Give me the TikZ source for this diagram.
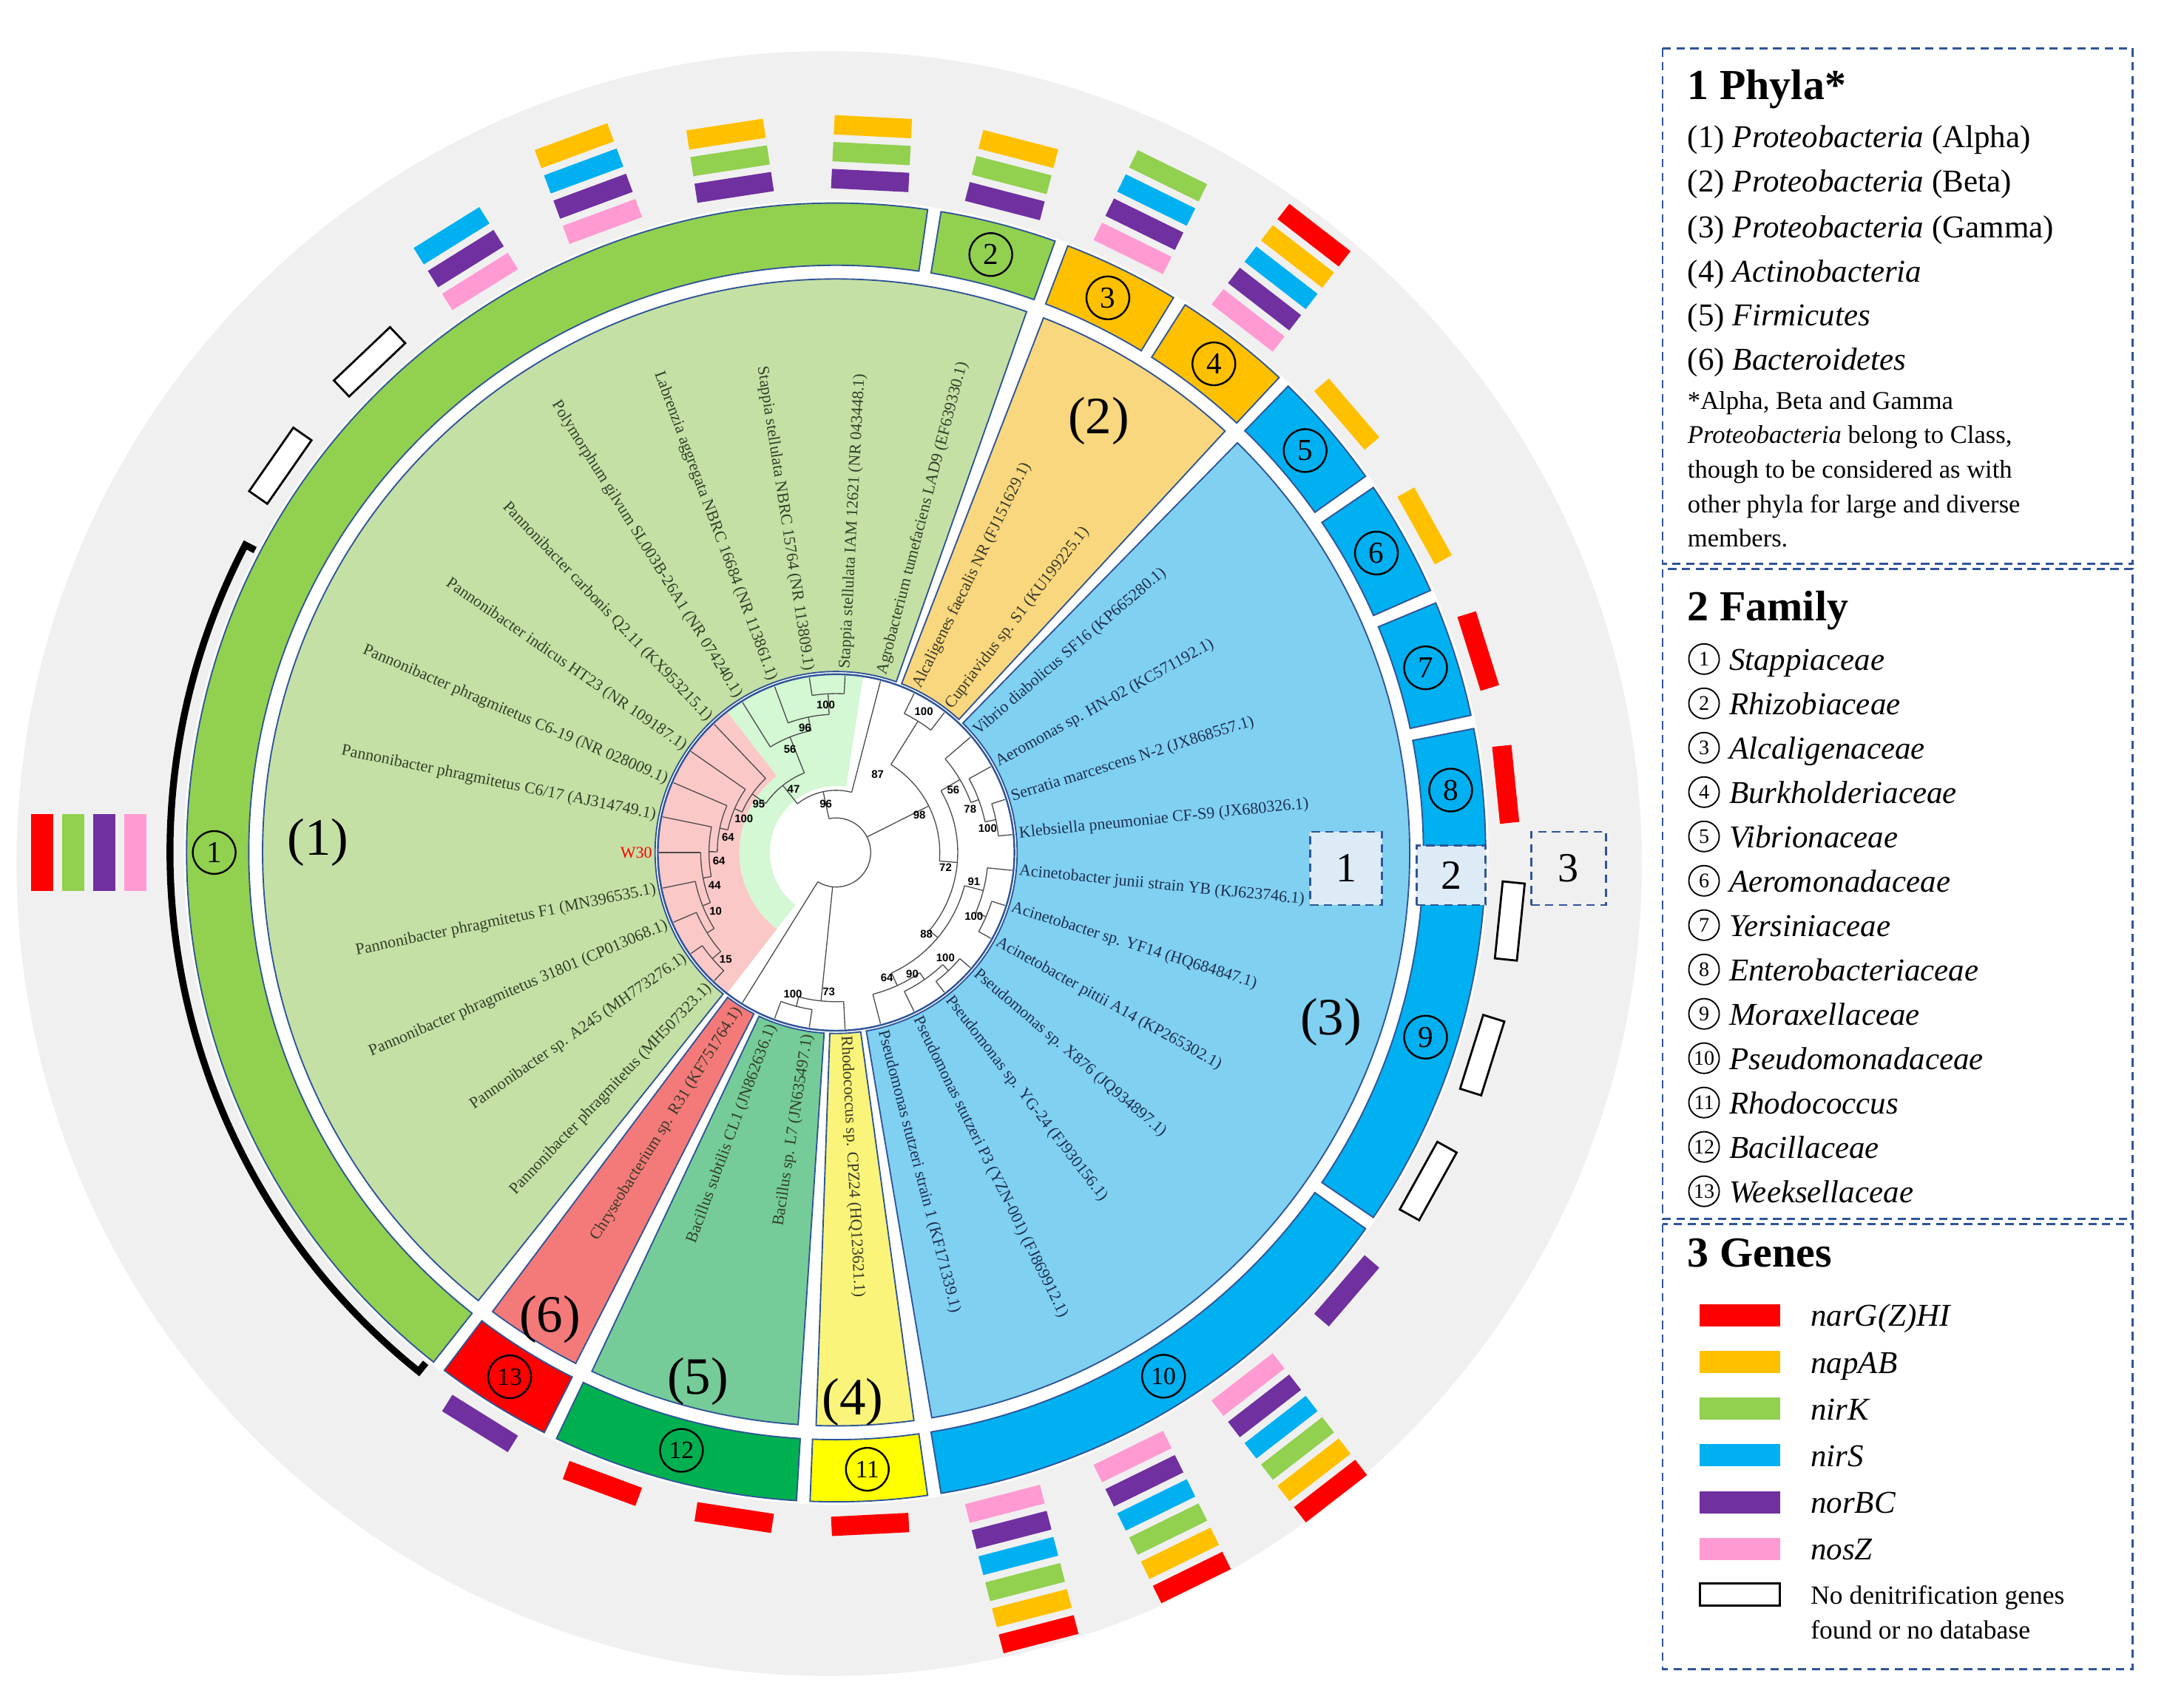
\documentclass[tikz,border=0pt]{standalone}
\usepackage{fontspec}
\setmainfont{Liberation Serif}
\newfontfamily\lsans{Liberation Sans}
\definecolor{cR}{HTML}{FF0000}
\definecolor{cO}{HTML}{FFC000}
\definecolor{cG}{HTML}{92D050}
\definecolor{cB}{HTML}{00B0F0}
\definecolor{cP}{HTML}{7030A0}
\definecolor{cK}{HTML}{FF9BD2}
\definecolor{edge}{HTML}{2F5597}
\definecolor{bgc}{HTML}{F0F0F0}
\definecolor{ph1}{HTML}{C5E0A5}
\definecolor{ph2}{HTML}{F9D77E}
\definecolor{ph3}{HTML}{80D0F2}
\definecolor{ph4}{HTML}{FAF57A}
\definecolor{ph5}{HTML}{76CC98}
\definecolor{ph6}{HTML}{F47A7A}
\definecolor{fm11}{HTML}{FFFF00}
\definecolor{fm12}{HTML}{00B050}
\definecolor{tg}{HTML}{33402A}
\definecolor{tb}{HTML}{1F2F4F}
\definecolor{tk}{HTML}{3A3A2A}
\definecolor{pinkin}{HTML}{FBC8C8}
\definecolor{grnin}{HTML}{D4F7D4}
\definecolor{keyfill}{HTML}{DDEBF7}
\tikzset{
  br/.style={draw=black!70,line width=0.7pt},
  sec/.style={draw=edge,line width=1pt},
  gb/.style={minimum width=14pt,minimum height=56pt,inner sep=0pt,outer sep=0pt,draw=none},
  eb/.style={minimum width=16pt,minimum height=56pt,inner sep=0pt,draw=black,line width=1.5pt,fill=white},
  lf/.style={font=\fontsize{11.8}{13}\selectfont,inner sep=0pt},
  bsn/.style={font=\lsans\bfseries\fontsize{8}{9}\selectfont,inner sep=0.5pt},
  fnum/.style={circle,draw=black,line width=1.3pt,minimum size=31pt,inner sep=0pt,font=\fontsize{22}{24}\selectfont},
  lnum/.style={circle,draw=black,line width=1pt,minimum size=22pt,inner sep=0pt,font=\fontsize{15}{16}\selectfont},
  legbox/.style={draw=edge,line width=1.5pt,dash pattern=on 6pt off 4pt},
  legt/.style={anchor=base west,inner sep=0pt,font=\fontsize{23}{26}\selectfont},
  legn/.style={anchor=base west,inner sep=0pt,font=\fontsize{18.5}{22}\selectfont},
  legh/.style={anchor=base west,inner sep=0pt,font=\bfseries\fontsize{31}{34}\selectfont},
  phl/.style={font=\fontsize{38}{40}\selectfont},
}
\newcommand\sector[5]{\path[#5] (#1:#3pt) -- (#1:#4pt) arc[start angle=#1,end angle=#2,radius=#4pt] -- (#2:#3pt) arc[start angle=#2,end angle=#1,radius=#3pt] -- cycle;}
\newcommand\Br[3]{\draw[br] (#1:#2pt) -- (#1:#3pt);}
\newcommand\Ar[3]{\draw[br] (#2:#1pt) arc[start angle=#2,end angle=#3,radius=#1pt];}
\newcommand\LR[3]{\node[lf,text=#3,anchor=west,rotate=#1] at (#1:133pt) {#2};}
\newcommand\LL[3]{\node[lf,text=#3,anchor=east,rotate=#1-180] at (#1:133pt) {#2};}
\newcommand\BS[3]{\node[bsn] at (#1:#2pt) {#3};}
\newcommand\stack[2]{\foreach \c [count=\i from 0] in {#2} {\pgfmathsetmacro\rr{487+19.5*\i}\node[gb,fill=\c,rotate=#1] at (#1:\rr pt) {};}}
\newcommand\ebox[1]{\node[eb,rotate=#1] at (#1:490pt) {};}
\begin{document}
\begin{tikzpicture}[x=1pt,y=1pt]
\useasboundingbox (-605,-619) rectangle (963,617);
\fill[white] (-605,-619) rectangle (963,617);
\begin{scope}
\clip (-605,-619) rectangle (963,617);
\fill[bgc] (-5,-8) circle (588pt);
\end{scope}
\fill[white] (0,0) circle (472pt);
% phyla sectors
\sector{70.6}{231.4}{131}{415}{sec,fill=ph1}
\sector{47.3}{68.8}{131}{415}{sec,fill=ph2}
\sector{-80.4}{45.6}{131}{415}{sec,fill=ph3}
\sector{-92.0}{-82.2}{131}{415}{sec,fill=ph4}
\sector{-115.2}{-93.8}{131}{415}{sec,fill=ph5}
\sector{-126.8}{-117.0}{131}{415}{sec,fill=ph6}
% family ring
\sector{81.9}{231.7}{425}{470}{sec,fill=cG}
\sector{70.3}{80.7}{425}{470}{sec,fill=cG}
\sector{58.7}{69.1}{425}{470}{sec,fill=cO}
\sector{47.0}{57.5}{425}{470}{sec,fill=cO}
\sector{35.4}{45.9}{425}{470}{sec,fill=cB}
\sector{23.8}{34.2}{425}{470}{sec,fill=cB}
\sector{12.2}{22.6}{425}{470}{sec,fill=cB}
\sector{0.6}{11.0}{425}{470}{sec,fill=cB}
\sector{-34.2}{-0.6}{425}{470}{sec,fill=cB}
\sector{-80.7}{-35.4}{425}{470}{sec,fill=cB}
\sector{-92.3}{-81.9}{425}{470}{sec,fill=fm11}
\sector{-115.5}{-93.5}{425}{470}{sec,fill=fm12}
\sector{-127.1}{-116.7}{425}{470}{sec,fill=cR}
\node[fnum] (f1) at (180:450pt) {1};
\node[fnum] (f2) at (75.5:447pt) {2};
\node[fnum] (f3) at (63.9:447pt) {3};
\node[fnum] (f4) at (52.3:447pt) {4};
\node[fnum] (f5) at (40.6:447pt) {5};
\node[fnum] (f6) at (29.0:447pt) {6};
\node[fnum] (f7) at (17.4:447pt) {7};
\node[fnum] (f8) at (5.8:447pt) {8};
\node[fnum] (f9) at (-17.4:447pt) {9};
\node[fnum,font=\fontsize{18}{20}\selectfont] (f10) at (-58:447pt) {10};
\node[fnum,font=\fontsize{18}{20}\selectfont] (f11) at (-87.1:447pt) {11};
\node[fnum,font=\fontsize{18}{20}\selectfont] (f12) at (-104.5:447pt) {12};
\node[fnum,font=\fontsize{18}{20}\selectfont] (f13) at (-121.9:447pt) {13};
% phyla labels
\node[phl] (p1) at (-375,7) {(1)};
\node[phl] (p2) at (190,312) {(2)};
\node[phl] (p3) at (358,-123) {(3)};
\node[phl] (p4) at (12,-398) {(4)};
\node[phl] (p5) at (-100,-383) {(5)};
\node[phl] (p6) at (-207,-338) {(6)};
% inner tree area
\fill[white] (0,0) circle (129pt);
\sector{127.74}{232.26}{70}{128.5}{fill=pinkin}
\sector{81.29}{127.74}{70}{128.5}{fill=grnin}
\sector{81.29}{232.26}{48}{70}{fill=grnin}
\draw[edge,line width=1.3pt] (0,0) circle (129pt);
% tree branches
\Ar{118}{214.84}{226.45}\Br{214.84}{118}{128}\Br{226.45}{118}{128}\Br{220.65}{110}{118}
\Ar{110}{203.23}{220.65}\Br{203.23}{110}{128}\Br{211.94}{104}{110}
\Ar{104}{191.61}{211.94}\Br{191.61}{104}{128}\Br{201.78}{98}{104}
\Ar{98}{180}{201.78}\Br{180}{98}{128}\Br{190.89}{92}{98}
\Ar{92}{168.39}{190.89}\Br{168.39}{92}{128}\Br{179.64}{86}{92}
\Ar{86}{156.77}{179.64}\Br{156.77}{86}{128}\Br{168.2}{80}{86}
\Ar{80}{145.16}{168.2}\Br{145.16}{80}{128}\Br{156.68}{74}{80}
\Ar{74}{133.55}{156.68}\Br{133.55}{74}{128}\Br{145.12}{62}{74}
\Ar{115}{87.10}{98.71}\Br{87.10}{115}{128}\Br{98.71}{115}{128}\Br{92.9}{100}{115}
\Ar{100}{92.9}{110.32}\Br{110.32}{100}{128}\Br{101.61}{90}{100}
\Ar{90}{101.61}{121.94}\Br{121.94}{90}{128}\Br{111.78}{62}{90}
\Ar{62}{111.78}{145.12}\Br{128.45}{45}{62}
\Ar{45}{75.48}{128.45}\Br{75.48}{45}{128}\Br{101.97}{25}{45}
\Ar{112}{52.26}{63.87}\Br{52.26}{112}{128}\Br{63.87}{112}{128}\Br{58.07}{75}{112}
\Ar{118}{5.81}{17.42}\Br{5.81}{118}{128}\Br{17.42}{118}{128}\Br{11.62}{110}{118}
\Ar{110}{11.62}{29.03}\Br{29.03}{110}{128}\Br{20.33}{104}{110}
\Ar{104}{20.33}{40.65}\Br{40.65}{104}{128}\Br{30.49}{88}{104}
\Ar{118}{-29.03}{-17.42}\Br{-17.42}{118}{128}\Br{-29.03}{118}{128}\Br{-23.23}{110}{118}
\Ar{110}{-23.23}{-5.81}\Br{-5.81}{110}{128}\Br{-14.52}{96}{110}
\Ar{118}{-52.26}{-40.65}\Br{-40.65}{118}{128}\Br{-52.26}{118}{128}\Br{-46.46}{112}{118}
\Ar{112}{-63.87}{-46.46}\Br{-63.87}{112}{128}\Br{-55.17}{106}{112}
\Ar{106}{-75.48}{-55.17}\Br{-75.48}{106}{128}\Br{-65.33}{96}{106}
\Ar{96}{-65.33}{-14.52}\Br{-39.93}{88}{96}
\Ar{88}{-39.93}{30.49}\Br{-4.72}{75}{88}
\Ar{75}{-4.72}{58.07}\Br{26.68}{25}{75}
\Ar{115}{-110.32}{-98.71}\Br{-98.71}{115}{128}\Br{-110.32}{115}{128}\Br{-104.52}{108}{115}
\Ar{108}{-104.52}{-87.10}\Br{-87.10}{108}{128}\Br{-95.81}{25}{108}
\Ar{25}{-121.94}{101.97}\Br{-121.94}{25}{128}
% bootstrap values
\BS{224}{111}{15}\BS{206}{97}{10}\BS{195}{91}{44}\BS{184}{85}{64}
\BS{172}{79}{64}\BS{160}{71}{100}\BS{148}{66}{95}\BS{124}{55}{47}
\BS{114}{82}{56}\BS{104}{93}{96}\BS{94}{107}{100}\BS{101.97}{36}{96}
\BS{62}{64}{87}\BS{58.07}{120}{100}
\BS{9}{111}{100}\BS{18}{102}{78}\BS{28}{96}{56}\BS{-8}{80}{72}
\BS{-25}{110}{100}\BS{-12}{102}{91}\BS{-42}{88}{88}\BS{-44}{110}{100}
\BS{-58}{104}{90}\BS{-68}{98}{64}\BS{24}{66}{98}
\BS{-107}{107}{100}\BS{-93}{101}{73}
% leaf labels
\LL{180}{W30}{red}
\LL{168.39}{Pannonibacter phragmitetus C6/17 (AJ314749.1)}{tg}
\LL{156.77}{Pannonibacter phragmitetus C6-19 (NR 028009.1)}{tg}
\LL{145.16}{Pannonibacter indicus HT23 (NR 109187.1)}{tg}
\LL{133.55}{Pannonibacter carbonis Q2.11 (KX953215.1)}{tg}
\LL{121.94}{Polymorphum gilvum SL003B-26A1 (NR 074240.1)}{tg}
\LL{110.32}{Labrenzia aggregata NBRC 16684 (NR 113861.1)}{tg}
\LL{98.71}{Stappia stellulata NBRC 15764 (NR 113809.1)}{tg}
\LR{87.10}{Stappia stellulata IAM 12621 (NR 043448.1)}{tg}
\LR{75.48}{Agrobacterium tumefaciens LAD9 (EF639330.1)}{tg}
\LR{63.87}{Alcaligenes faecalis NR (FJ151629.1)}{tk}
\LR{52.26}{Cupriavidus sp. S1 (KU199225.1)}{tk}
\LR{40.65}{Vibrio diabolicus SF16 (KP665280.1)}{tb}
\LR{29.03}{Aeromonas sp. HN-02 (KC571192.1)}{tb}
\LR{17.42}{Serratia marcescens N-2 (JX868557.1)}{tb}
\LR{5.81}{Klebsiella pneumoniae CF-S9 (JX680326.1)}{tb}
\LR{-5.81}{Acinetobacter junii strain YB (KJ623746.1)}{tb}
\LR{-17.42}{Acinetobacter sp. YF14 (HQ684847.1)}{tb}
\LR{-29.03}{Acinetobacter pittii A14 (KP265302.1)}{tb}
\LR{-40.65}{Pseudomonas sp. X876 (JQ934897.1)}{tb}
\LR{-52.26}{Pseudomonas sp. YG-24 (FJ930156.1)}{tb}
\LR{-63.87}{Pseudomonas stutzeri P3 (YZN-001) (FJ869912.1)}{tb}
\LR{-75.48}{Pseudomonas stutzeri strain 1 (KF171339.1)}{tb}
\LR{-87.10}{Rhodococcus sp. CPZ24 (HQ123621.1)}{tk}
\LL{261.29}{Bacillus sp. L7 (JN635497.1)}{tg}
\LL{249.68}{Bacillus subtilis CL1 (JN862636.1)}{tg}
\LL{238.06}{Chryseobacterium sp. R31 (KF751764.1)}{tk}
\LL{226.45}{Pannonibacter phragmitetus (MH507323.1)}{tg}
\LL{214.84}{Pannonibacter sp. A245 (MH773276.1)}{tg}
\LL{203.23}{Pannonibacter phragmitetus 31801 (CP013068.1)}{tg}
\LL{191.61}{Pannonibacter phragmitetus F1 (MN396535.1)}{tg}
% gene stacks
\stack{121.94}{cK,cP,cB}
\stack{110.32}{cK,cP,cB,cO}
\stack{98.71}{cP,cG,cO}
\stack{87.10}{cP,cG,cO}
\stack{75.48}{cP,cG,cO}
\stack{63.87}{cK,cP,cB,cG}
\stack{52.26}{cK,cP,cB,cO,cR}
\stack{40.65}{cO}
\stack{29.03}{cO}
\stack{17.42}{cR}
\stack{5.81}{cR}
\stack{-40.65}{cP}
\stack{-52.26}{cK,cP,cB,cG,cO,cR}
\stack{-63.87}{cK,cP,cB,cG,cO,cR}
\stack{-75.48}{cK,cP,cB,cG,cO,cR}
\stack{-87.10}{cR}
\stack{-98.71}{cR}
\stack{-110.32}{cR}
\stack{-121.94}{cP}
\ebox{-5.81}\ebox{-17.42}\ebox{-29.03}\ebox{145.16}\ebox{133.55}
\foreach \c [count=\i from 0] in {cK,cP,cG,cR} {\pgfmathsetmacro\rr{507+22.5*\i}\node[gb,minimum width=16pt,fill=\c] at (180:\rr pt) {};}
\draw[line width=5pt,line cap=butt] (152.5:474pt) -- (152.5:482pt) arc[start angle=152.5,end angle=231.2,radius=482pt] -- (231.2:474pt);
% ring keys
\node[draw=edge,line width=1.5pt,dash pattern=on 6pt off 4pt,fill=keyfill,minimum width=52pt,minimum height=53pt,font=\fontsize{30}{32}\selectfont] (k1) at (369,-11.5) {1};
\node[draw=edge,line width=1.5pt,dash pattern=on 6pt off 4pt,fill=keyfill,minimum width=50pt,minimum height=43pt,font=\fontsize{30}{32}\selectfont] (k2) at (445,-16.5) {2};
\node[draw=edge,line width=1.5pt,dash pattern=on 6pt off 4pt,minimum width=54pt,minimum height=53pt,font=\fontsize{30}{32}\selectfont] (k3) at (530,-11.5) {3};
% legend
\draw[legbox] (598,582) rectangle (938,209);
\draw[legbox] (598,205) rectangle (938,-265);
\draw[legbox] (598,-269) rectangle (938,-591);
\node[legh] (h1) at (616,545) {1 Phyla*};
\node[legt] at (616,510) {(1) \textit{Proteobacteria} (Alpha)};
\node[legt] at (616,478) {(2) \textit{Proteobacteria} (Beta)};
\node[legt] at (616,445) {(3) \textit{Proteobacteria} (Gamma)};
\node[legt] at (616,413) {(4) \textit{Actinobacteria}};
\node[legt] at (616,381) {(5) \textit{Firmicutes}};
\node[legt] at (616,349) {(6) \textit{Bacteroidetes}};
\node[legn] at (616,321) {*Alpha, Beta and Gamma};
\node[legn] at (616,296) {\textit{Proteobacteria} belong to Class,};
\node[legn] at (616,271) {though to be considered as with};
\node[legn] at (616,246) {other phyla for large and diverse};
\node[legn] at (616,221) {members.};
\node[legh] (h2) at (616,168) {2 Family};
\foreach \n/\t [count=\i from 0] in {1/Stappiaceae,2/Rhizobiaceae,3/Alcaligenaceae,4/Burkholderiaceae,5/Vibrionaceae,6/Aeromonadaceae,7/Yersiniaceae,8/Enterobacteriaceae,9/Moraxellaceae,10/Pseudomonadaceae,11/Rhodococcus,12/Bacillaceae,13/Weeksellaceae}
  {\node[lnum] at (628,140-32.1*\i) {\n};
   \node[legt] at (646,132-32.1*\i) {\textit{\t}};}
\node[legh] (h3) at (616,-300) {3 Genes};
\foreach \c/\t [count=\i from 0] in {cR/narG(Z)HI,cO/napAB,cG/nirK,cB/nirS,cP/norBC,cK/nosZ}
  {\fill[\c] (625,-343-33.8*\i) rectangle (683,-327-33.8*\i);
   \node[legt] at (705,-343-33.8*\i) {\textit{\t}};}
\draw[line width=1.5pt,fill=white] (625,-545) rectangle (683,-529);
\node[legn,font=\fontsize{19}{22}\selectfont] at (705,-544) {No denitrification genes};
\node[legn,font=\fontsize{19}{22}\selectfont] at (705,-569) {found or no database};
\end{tikzpicture}
\end{document}
